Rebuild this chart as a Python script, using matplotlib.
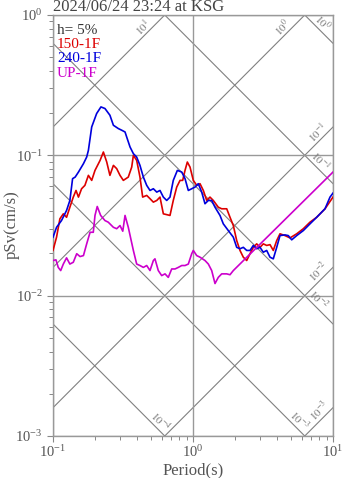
import numpy as np
import matplotlib
matplotlib.use("Agg")
import matplotlib.pyplot as plt
from matplotlib.ticker import NullFormatter, LogLocator

plt.rcParams['font.family'] = ['Liberation Serif', 'DejaVu Serif']
plt.rcParams['mathtext.fontset'] = 'stix'

# --- data (period in s, pSv in cm/s) ---
t_150 = [0.100, 0.106, 0.112, 0.1185, 0.125, 0.132, 0.1396, 0.146, 0.152, 0.160,
         0.169, 0.179, 0.189, 0.1995, 0.217, 0.229, 0.242, 0.255, 0.270, 0.285,
         0.301, 0.318, 0.345, 0.365, 0.375, 0.396, 0.418, 0.437, 0.467, 0.493,
         0.521, 0.551, 0.581, 0.614, 0.685, 0.723, 0.765, 0.808, 0.844, 0.877,
         0.911, 0.952, 1.005, 1.063, 1.122, 1.185, 1.253, 1.322, 1.396, 1.516,
         1.603, 1.741, 1.838, 1.941, 2.052, 2.166, 2.288, 2.419, 2.554, 2.696,
         2.851, 3.010, 3.178, 3.360, 3.548, 3.746, 3.962, 4.182, 4.541, 4.931,
         5.505, 6.137, 6.851, 7.648, 8.768, 10.0]
sv_150 = [0.0210, 0.0261, 0.0353, 0.0383, 0.0362, 0.0427, 0.0504, 0.0562, 0.0504, 0.0578,
          0.0611, 0.0720, 0.0663, 0.0781, 0.0921, 0.1056, 0.0896, 0.0720, 0.0848, 0.0804,
          0.0720, 0.0663, 0.0700, 0.0825, 0.1000, 0.0921, 0.0700, 0.0504, 0.0518, 0.0491,
          0.0464, 0.0477, 0.0504, 0.0383, 0.0373, 0.0477, 0.0594, 0.0663, 0.0663, 0.0781,
          0.0896, 0.0825, 0.0663, 0.0611, 0.0628, 0.0562, 0.0477, 0.0504, 0.0477, 0.0427,
          0.0416, 0.0416, 0.0362, 0.0316, 0.0247, 0.0210, 0.0188, 0.0178, 0.0199, 0.0221,
          0.0234, 0.0221, 0.0234, 0.0228, 0.0231, 0.0210, 0.0247, 0.0276, 0.0268, 0.0258,
          0.0276, 0.0300, 0.0334, 0.0362, 0.0416, 0.0504]

t_240 = [0.100, 0.106, 0.115, 0.125, 0.132, 0.138, 0.144, 0.152, 0.165, 0.174,
         0.179, 0.189, 0.205, 0.220, 0.235, 0.255, 0.270, 0.293, 0.310, 0.327,
         0.336, 0.355, 0.375, 0.396, 0.418, 0.442, 0.467, 0.493, 0.521, 0.551,
         0.581, 0.614, 0.649, 0.685, 0.723, 0.773, 0.831, 0.877, 0.926, 0.979,
         1.034, 1.091, 1.154, 1.218, 1.287, 1.360, 1.436, 1.559, 1.646, 1.787,
         1.941, 2.052, 2.166, 2.288, 2.419, 2.554, 2.696, 2.851, 3.010, 3.178,
         3.360, 3.548, 3.746, 3.962, 4.182, 4.541, 4.794, 5.070, 5.505, 6.137,
         6.851, 7.648, 8.768, 9.52, 10.0]
sv_240 = [0.0261, 0.0307, 0.0343, 0.0405, 0.0477, 0.0682, 0.0700, 0.0760, 0.0872, 0.0972,
          0.1086, 0.1593, 0.1986, 0.2213, 0.2156, 0.1931, 0.1638, 0.1551, 0.1509, 0.1467,
          0.1351, 0.1147, 0.1028, 0.0972, 0.0848, 0.0700, 0.0611, 0.0562, 0.0578, 0.0547,
          0.0562, 0.0504, 0.0477, 0.0504, 0.0663, 0.0781, 0.0760, 0.0682, 0.0562, 0.0578,
          0.0594, 0.0628, 0.0547, 0.0452, 0.0477, 0.0477, 0.0427, 0.0373, 0.0325, 0.0291,
          0.0261, 0.0221, 0.0216, 0.0221, 0.0210, 0.0210, 0.0228, 0.0216, 0.0221, 0.0204,
          0.0210, 0.0188, 0.0183, 0.0221, 0.0268, 0.0271, 0.0268, 0.0250, 0.0268, 0.0291,
          0.0325, 0.0362, 0.0416, 0.0504, 0.0538]

t_up = [0.100, 0.105, 0.109, 0.1135, 0.1185, 0.125, 0.132, 0.1396, 0.1477, 0.156,
        0.165, 0.174, 0.184, 0.194, 0.1995, 0.207, 0.219, 0.235, 0.248, 0.270,
        0.285, 0.301, 0.315, 0.327, 0.345, 0.375, 0.396, 0.418, 0.442, 0.467,
        0.493, 0.521, 0.535, 0.565, 0.5975, 0.631, 0.666, 0.7045, 0.744, 0.785,
        0.831, 0.877, 0.926, 0.979, 1.005, 1.063, 1.122, 1.218, 1.287, 1.360,
        1.436, 1.516, 1.603, 1.741, 1.838, 1.941, 10.0]
sv_up = [0.0178, 0.0180, 0.0159, 0.0151, 0.0168, 0.0186, 0.0168, 0.0173, 0.0199, 0.0190,
         0.0193, 0.0234, 0.0283, 0.0283, 0.0373, 0.0432, 0.0373, 0.0343, 0.0334, 0.0307,
         0.0300, 0.0316, 0.0288, 0.0373, 0.0307, 0.0210, 0.0168, 0.0164, 0.0159, 0.0164,
         0.0151, 0.0178, 0.0183, 0.0151, 0.0139, 0.0143, 0.0135, 0.0155, 0.0155, 0.0159,
         0.0164, 0.0164, 0.0168, 0.0199, 0.0210, 0.0193, 0.0188, 0.0178, 0.0168, 0.0151,
         0.0122, 0.0135, 0.0143, 0.0143, 0.0141, 0.0151, 0.0760]

series = [("150-1F", t_150, sv_150, "#dd0000"),
          ("240-1F", t_240, sv_240, "#0000dd"),
          ("UP-1F", t_up, sv_up, "#cc00cc")]

# tripartite guide lines: acceleration (cm/s2) and displacement (cm)
acc_levels = [1e1, 1e0, 1e-1, 1e-2, 1e-3]
disp_levels = [1e0, 1e-1, 1e-2, 1e-3, 1e-4]
acc_label_t = [0.473, 4.73, 8.48, 8.63, 8.7]
disp_label_t = [7.69, 7.5, 7.26, 5.3, 0.535]

gray = "#808080"
txt = "#555555"

fig = plt.figure(figsize=(3.47, 4.78), dpi=100)
ax = fig.add_axes([53/347, 42/478, 280/347, 421/478])
ax.set_xscale("log")
ax.set_yscale("log")
ax.set_xlim(0.1, 10)
ax.set_ylim(1e-3, 1)

tw = 2 * np.pi
for a in acc_levels:
    ax.plot([0.1, 10], [a * 0.1 / tw, a * 10 / tw], color=gray, lw=0.8, zorder=1)
for d in disp_levels:
    ax.plot([0.1, 10], [tw * d / 0.1, tw * d / 10], color=gray, lw=0.8, zorder=1)

for a, tl in zip(acc_levels, acc_label_t):
    ax.annotate(r"$10^{%d}$" % round(np.log10(a)), (tl, a * tl / tw),
                xytext=(-5, 5), textcoords="offset pixels", rotation=45,
                rotation_mode="anchor", ha="center", va="center",
                fontsize=8, color="#777777")
for d, tl in zip(disp_levels, disp_label_t):
    ax.annotate(r"$10^{%d}$" % round(np.log10(d)), (tl, tw * d / tl),
                xytext=(5, 5), textcoords="offset pixels", rotation=-45,
                rotation_mode="anchor", ha="center", va="center",
                fontsize=8, color="#777777")

for name, t, sv, c in series:
    ax.plot(t, sv, color=c, lw=1.2, zorder=3)

ax.grid(True, which="major", color="#999999", lw=1.0, zorder=0)
for s in ax.spines.values():
    s.set_color("#999999")
    s.set_linewidth(1.0)

ax.xaxis.set_major_locator(LogLocator(base=10))
ax.yaxis.set_major_locator(LogLocator(base=10))
ax.xaxis.set_minor_formatter(NullFormatter())
ax.yaxis.set_minor_formatter(NullFormatter())
ax.tick_params(which="major", direction="out", length=4.5, width=0.8,
               color="#888888", labelcolor=txt, labelsize=10.5, pad=3)
ax.tick_params(axis="x", which="major", pad=1.5)
ax.tick_params(which="minor", direction="out", length=3, width=0.7, color="#888888")

# text legend at the top left
ax.text(0.014, 0.964, "h= 5%", transform=ax.transAxes, color="#333333",
        fontsize=11, va="center", ha="left")
for i, (name, t, sv, c) in enumerate(series):
    ax.text(0.014, 0.930 - i * 0.034, name, transform=ax.transAxes, color=c,
            fontsize=11, va="center", ha="left")

fig.text(53/347, 1 - 11/478, "2024/06/24 23:24 at KSG", color="#444444",
         fontsize=12, ha="left", va="baseline")
fig.text(12/347, 1 - 225/478, "pSv(cm/s)", color=txt, fontsize=12,
         rotation=90, ha="center", va="center")
fig.text(193/347, 1 - 470/478, "Period(s)", color=txt, fontsize=12,
         ha="center", va="center")

fig.savefig("out.png", dpi=100)
